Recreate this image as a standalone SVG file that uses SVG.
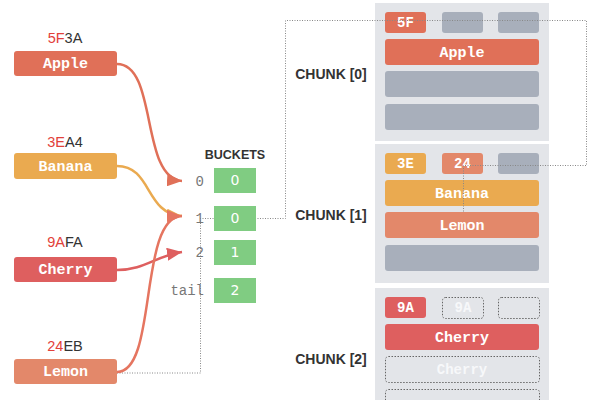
<svg xmlns="http://www.w3.org/2000/svg" width="600" height="400" viewBox="0 0 600 400">
<style>
.hdr{font-family:"Liberation Sans",Arial,sans-serif;font-size:14.5px;fill:#333;text-anchor:middle}
.hi{fill:#E2413A}
.fruit{font-family:"Liberation Mono","Courier New",monospace;font-weight:bold;font-size:15px;fill:#fff;text-anchor:middle}
.slot{font-family:"Liberation Mono","Courier New",monospace;font-weight:bold;font-size:14px;fill:#fff;text-anchor:middle}
.ghost{font-family:"Liberation Mono","Courier New",monospace;font-weight:bold;font-size:14px;fill:#f7f8fa;text-anchor:middle}
.idx{font-family:"Liberation Mono","Courier New",monospace;font-size:14px;fill:#777;text-anchor:end}
.bval{font-family:"DejaVu Sans",Verdana,sans-serif;font-size:14px;fill:#fff;text-anchor:middle}
.title{font-family:"Liberation Sans",Arial,sans-serif;font-weight:bold;font-size:12.5px;fill:#333;text-anchor:middle}
.clabel{font-family:"Liberation Sans",Arial,sans-serif;font-weight:bold;font-size:14px;fill:#333;text-anchor:middle}
.bucket{fill:#80CC82}
.chunkbg{fill:#E3E5E9}
.empty{fill:#A8AFBB}
.dash{fill:none;stroke:#666;stroke-width:1;stroke-dasharray:1.5,1.5}
.apple{fill:#E07058}
.banana{fill:#EAAA50}
.cherry{fill:#DE5F5F}
.lemon{fill:#E3886A}
.link{fill:none;stroke:#888;stroke-width:1;stroke-dasharray:1,1.5}
.arr{fill:none;stroke-width:2.5}
</style>
<defs>
<marker id="mA" markerUnits="userSpaceOnUse" markerWidth="16" markerHeight="13" refX="15" refY="6.5" orient="auto"><path d="M0,0 L15,6.5 L0,13 z" fill="#E07058"/></marker>
<marker id="mB" markerUnits="userSpaceOnUse" markerWidth="16" markerHeight="13" refX="15" refY="6.5" orient="auto"><path d="M0,0 L15,6.5 L0,13 z" fill="#EAAA50"/></marker>
<marker id="mC" markerUnits="userSpaceOnUse" markerWidth="16" markerHeight="13" refX="15" refY="6.5" orient="auto"><path d="M0,0 L15,6.5 L0,13 z" fill="#DE5F5F"/></marker>
<marker id="mL" markerUnits="userSpaceOnUse" markerWidth="16" markerHeight="13" refX="15" refY="6.5" orient="auto"><path d="M0,0 L15,6.5 L0,13 z" fill="#E57560"/></marker>
</defs>

<g id="chunk0">
<rect class="chunkbg" x="375" y="3" width="174" height="138"/>
<rect class="apple" x="385" y="12" width="41" height="21" rx="3"/>
<text class="slot" x="405.5" y="27">5F</text>
<rect class="empty" x="442" y="12" width="41" height="21" rx="3"/>
<rect class="empty" x="498" y="12" width="41" height="21" rx="3"/>
<rect class="apple" x="385" y="39" width="154" height="26" rx="3"/>
<text class="fruit" x="462" y="57">Apple</text>
<rect class="empty" x="385" y="71" width="154" height="26" rx="3"/>
<rect class="empty" x="385" y="104" width="154" height="26" rx="3"/>
<text class="clabel" x="331" y="79">CHUNK [0]</text>
</g>

<g id="chunk1">
<rect class="chunkbg" x="375" y="144" width="174" height="139"/>
<rect class="banana" x="385" y="153" width="41" height="21" rx="3"/>
<text class="slot" x="405.5" y="168">3E</text>
<rect class="lemon" x="442" y="153" width="41" height="21" rx="3"/>
<text class="slot" x="462.5" y="168">24</text>
<rect class="empty" x="498" y="153" width="41" height="21" rx="3"/>
<rect class="banana" x="385" y="180" width="154" height="26" rx="3"/>
<text class="fruit" x="462" y="198">Banana</text>
<rect class="lemon" x="385" y="212" width="154" height="26" rx="3"/>
<text class="fruit" x="462" y="230">Lemon</text>
<rect class="empty" x="385" y="245" width="154" height="26" rx="3"/>
<text class="clabel" x="331" y="220">CHUNK [1]</text>
</g>

<g id="chunk2">
<rect class="chunkbg" x="375" y="288" width="174" height="115"/>
<rect class="cherry" x="385" y="297" width="41" height="21" rx="3"/>
<text class="slot" x="405.5" y="312">9A</text>
<rect class="dash" x="442.5" y="297.5" width="41" height="21" rx="3"/>
<text class="ghost" x="463" y="312">9A</text>
<rect class="dash" x="498.5" y="297.5" width="41" height="21" rx="3"/>
<rect class="cherry" x="385" y="324" width="154" height="26" rx="3"/>
<text class="fruit" x="462" y="342">Cherry</text>
<rect class="dash" x="385.5" y="356.5" width="154" height="26" rx="3"/>
<text class="ghost" x="462" y="374">Cherry</text>
<rect class="dash" x="385.5" y="389.5" width="154" height="26" rx="3"/>
<text class="clabel" x="331" y="364">CHUNK [2]</text>
</g>

<g id="connectors">
<path class="link" d="M117,373 H200.5 V218.5 H285.5 V20.5 H586.5 V165.5 H463.5 V212"/>
<path class="arr" stroke="#E07058" marker-end="url(#mA)" d="M117,64 C158,64 140,178 182,181"/>
<path class="arr" stroke="#EAAA50" marker-end="url(#mB)" d="M117,166 C152,166 145,214 182,216"/>
<path class="arr" stroke="#DE5F5F" marker-end="url(#mC)" d="M117,270 C145,270 155,256 182,252"/>
<path class="arr" stroke="#E57560" marker-end="url(#mL)" d="M117,372 C158,372 138,217 182,216"/>
</g>

<g id="apple">
<text class="hdr" x="65" y="43"><tspan class="hi">5F</tspan>3A</text>
<rect class="apple" x="14" y="51" width="103" height="25" rx="3"/>
<text class="fruit" x="65.5" y="68">Apple</text>
</g>
<g id="banana">
<text class="hdr" x="65" y="147"><tspan class="hi">3E</tspan>A4</text>
<rect class="banana" x="14" y="153" width="103" height="26" rx="3"/>
<text class="fruit" x="65.5" y="171">Banana</text>
</g>
<g id="cherry">
<text class="hdr" x="65" y="247"><tspan class="hi">9A</tspan>FA</text>
<rect class="cherry" x="14" y="257" width="103" height="25" rx="3"/>
<text class="fruit" x="65.5" y="274">Cherry</text>
</g>
<g id="lemon">
<text class="hdr" x="65" y="351"><tspan class="hi">24</tspan>EB</text>
<rect class="lemon" x="14" y="359" width="103" height="25" rx="3"/>
<text class="fruit" x="65.5" y="376">Lemon</text>
</g>

<g id="buckets">
<text class="title" x="235" y="159">BUCKETS</text>
<text class="idx" x="204" y="186">0</text>
<rect class="bucket" x="214" y="168" width="42" height="25"/>
<text class="bval" x="235" y="185">0</text>
<text class="idx" x="204" y="223">1</text>
<rect class="bucket" x="214" y="206" width="42" height="25"/>
<text class="bval" x="235" y="223">0</text>
<text class="idx" x="204" y="257">2</text>
<rect class="bucket" x="214" y="240" width="42" height="25"/>
<text class="bval" x="235" y="257">1</text>
<text class="idx" x="204" y="295">tail</text>
<rect class="bucket" x="214" y="278" width="42" height="25"/>
<text class="bval" x="235" y="295">2</text>
</g>
</svg>
